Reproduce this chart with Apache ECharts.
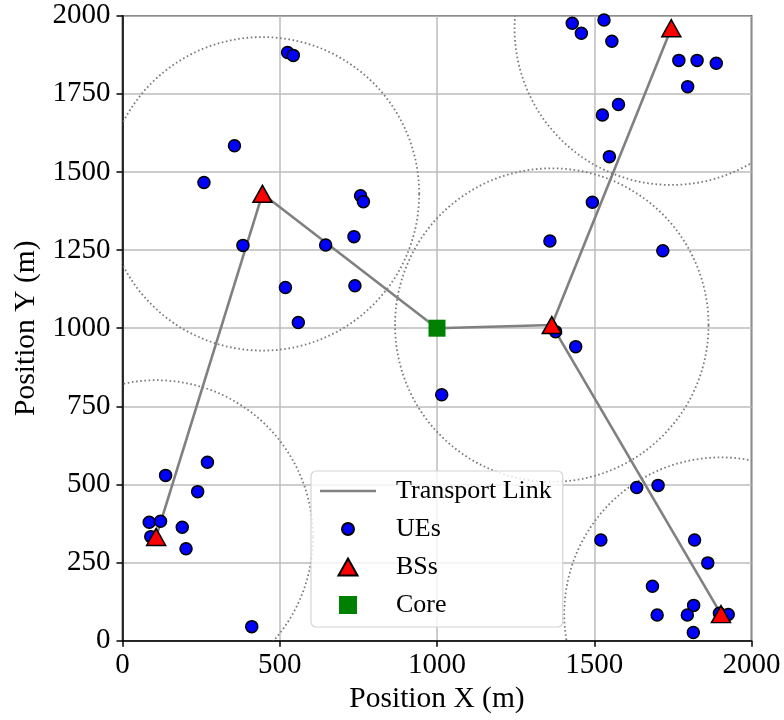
<!DOCTYPE html>
<html>
<head>
<meta charset="utf-8">
<script src="https://cdn.jsdelivr.net/npm/echarts@6/dist/echarts.min.js"></script>
<style>
  html, body { margin: 0; padding: 0; background: #fff; }
  #chart { width: 784px; height: 720px; }
</style>
</head>
<body>
<div id="chart"></div>
<script>
// User equipment positions (m)
const ueX = [525, 543, 356, 259, 757, 766, 736, 383, 646, 518, 739, 559,
             1430, 1531, 1459, 1556, 1769, 1827, 1888, 1797, 1577, 1526, 1548, 1494, 1359, 1718,
             1015, 137, 270, 239, 85, 121, 90, 190, 202, 411,
             1377, 1441, 1635, 1703, 1521, 1819, 1861, 1685, 1816, 1700, 1796, 1815, 1898, 1926];
const ueY = [1882, 1873, 1584, 1466, 1424, 1405, 1293, 1265, 1266, 1130, 1136, 1018,
             1976, 1986, 1944, 1918, 1857, 1857, 1848, 1773, 1716, 1682, 1549, 1403, 1279, 1248,
             787, 529, 571, 477, 379, 382, 333, 363, 294, 45,
             989, 941, 490, 497, 322, 322, 249, 174, 113, 82, 82, 26, 88, 84];

// Base station positions (m)
const bsX = [107, 445, 1365, 1745, 1903];
const bsY = [332, 1430, 1010, 1960, 85];

// Core node position (m)
const coreX = [1000];
const coreY = [1000];

// Coverage radius of each base station (m)
const coverRadius = 500;

// Transport links: -1 is the core, other numbers index the base stations
const linkFrom = [-1, 1, -1, 2, 2];
const linkTo   = [1, 0, 2, 3, 4];

// Axis ticks
const xTicks = [0, 500, 1000, 1500, 2000];
const yTicks = [0, 250, 500, 750, 1000, 1250, 1500, 1750, 2000];

const FONT = 'Liberation Serif, Times New Roman, serif';

// Legend handles drawn inside a fixed 56x18 box so their sizes stay put
const ICON_LINE = 'path://M0,0M56,18M0,7.75L56,7.75L56,10.25L0,10.25Z';
const ICON_CIRCLE = 'path://M0,0M18,18M3,9a6,6 0 1,0 12,0a6,6 0 1,0 -12,0Z';
const ICON_TRIANGLE = 'path://M0,0M20,18M0.5,17.5L10,0.5L19.5,17.5Z';
const ICON_SQUARE = 'path://M0,0M20,19M0.5,0L19.5,0L19.5,19L0.5,19Z';

function nodePos(i) {
  return i < 0 ? [coreX[0], coreY[0]] : [bsX[i], bsY[i]];
}

const linkSeries = linkFrom.map((f, k) => ({
  type: 'line',
  name: 'Transport Link',
  data: [nodePos(f), nodePos(linkTo[k])],
  symbol: 'none',
  lineStyle: { color: '#808080', width: 2.6 },
  itemStyle: { color: '#808080' },
  z: 2,
  silent: true
}));

const chart = echarts.init(document.getElementById('chart'), null, { renderer: 'canvas' });

const option = {
  animation: false,
  backgroundColor: '#ffffff',
  grid: {
    left: 122.5, right: 32.5, top: 15.7, bottom: 79.3,
    show: true, borderColor: '#000', borderWidth: 1.5, backgroundColor: 'transparent'
  },
  xAxis: {
    type: 'value', min: xTicks[0], max: xTicks[xTicks.length - 1], interval: xTicks[1] - xTicks[0],
    name: 'Position X (m)', nameLocation: 'middle', nameGap: 33,
    nameTextStyle: { fontFamily: FONT, fontSize: 29.5, color: '#000' },
    axisLine: { show: true, onZero: false, lineStyle: { color: '#000', width: 1.5 } },
    axisTick: { show: true, inside: false, length: 6, lineStyle: { color: '#000', width: 1.5 } },
    axisLabel: { fontFamily: FONT, fontSize: 29, color: '#000', margin: 10,
                 formatter: v => String(v) },
    splitLine: { show: true, lineStyle: { color: '#bdbdbd', width: 1.5 } }
  },
  yAxis: {
    type: 'value', min: yTicks[0], max: yTicks[yTicks.length - 1], interval: yTicks[1] - yTicks[0],
    name: 'Position Y (m)', nameLocation: 'middle', nameGap: 80, nameRotate: 90,
    nameTextStyle: { fontFamily: FONT, fontSize: 29.5, color: '#000' },
    axisLine: { show: true, onZero: false, lineStyle: { color: '#000', width: 1.5 } },
    axisTick: { show: true, inside: false, length: 6, lineStyle: { color: '#000', width: 1.5 } },
    axisLabel: { fontFamily: FONT, fontSize: 29, color: '#000', margin: 12,
                 formatter: v => String(v) },
    splitLine: { show: true, lineStyle: { color: '#bdbdbd', width: 1.5 } }
  },
  legend: {
    orient: 'vertical',
    left: 311, top: 471,
    padding: [7, 11, 9, 9],
    itemWidth: 56, itemHeight: 18, itemGap: 12,
    backgroundColor: 'rgba(255,255,255,0.8)',
    borderColor: '#d4d4d4', borderWidth: 1.2, borderRadius: 5,
    selectedMode: false,
    textStyle: { fontFamily: FONT, fontSize: 26, color: '#000', lineHeight: 26, padding: [0, 0, 0, 15] },
    data: [
      { name: 'Transport Link', icon: ICON_LINE },
      { name: 'UEs', icon: ICON_CIRCLE },
      { name: 'BSs', icon: ICON_TRIANGLE },
      { name: 'Core', icon: ICON_SQUARE }
    ],
    z: 10
  },
  series: [
    {
      // Dotted coverage circle around each base station
      type: 'custom',
      name: 'Coverage',
      coordinateSystem: 'cartesian2d',
      data: bsX.map((x, i) => [x, bsY[i]]),
      encode: { x: 0, y: 1 },
      silent: true,
      z: 1,
      renderItem: function (params, api) {
        const c = api.coord([api.value(0), api.value(1)]);
        const s = api.size([coverRadius, coverRadius]);
        const cs = params.coordSys;
        return {
          type: 'circle',
          shape: { cx: c[0], cy: c[1], r: (s[0] + s[1]) / 2 },
          style: { fill: 'none', stroke: '#7a7a7a', lineWidth: 1.8, lineDash: [1.6, 2.6] },
          clipPath: { type: 'rect', shape: { x: cs.x, y: cs.y, width: cs.width, height: cs.height } }
        };
      }
    },
    ...linkSeries,
    {
      type: 'scatter',
      name: 'UEs',
      data: ueX.map((x, i) => [x, ueY[i]]),
      symbol: 'circle',
      symbolSize: 12,
      itemStyle: { color: '#0000ff', borderColor: '#000', borderWidth: 1.5, opacity: 1 },
      z: 3,
      silent: true
    },
    {
      type: 'scatter',
      name: 'BSs',
      data: bsX.map((x, i) => [x, bsY[i]]),
      symbol: 'triangle',
      symbolSize: [19, 17],
      itemStyle: { color: '#ff0000', borderColor: '#000', borderWidth: 1.5, opacity: 1 },
      z: 4,
      silent: true
    },
    {
      type: 'scatter',
      name: 'Core',
      data: coreX.map((x, i) => [x, coreY[i]]),
      symbol: 'rect',
      symbolSize: 17,
      itemStyle: { color: '#008000', opacity: 1 },
      z: 5,
      silent: true
    }
  ]
};

chart.setOption(option);
</script>
</body>
</html>
